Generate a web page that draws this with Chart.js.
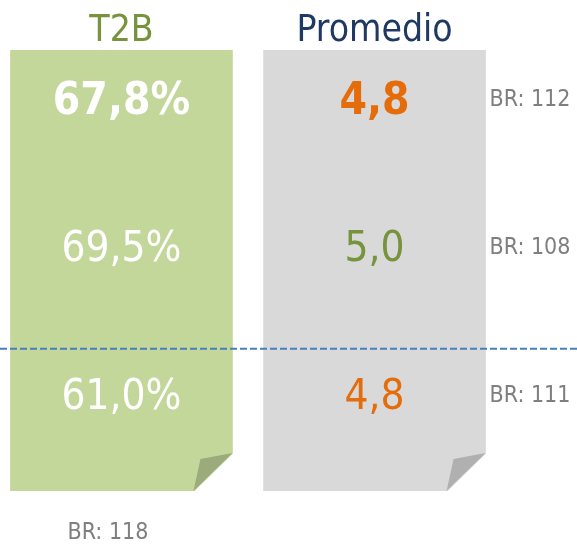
<!DOCTYPE html>
<html>
<head>
<meta charset="utf-8">
<script src="https://cdn.jsdelivr.net/npm/chart.js@4.4.1/dist/chart.umd.min.js"></script>
<style>
  html, body { margin: 0; padding: 0; background: #fff; }
  #wrap { width: 577px; height: 548px; }
</style>
</head>
<body>
<div id="wrap"><canvas id="summaryChart" width="577" height="548"></canvas></div>
<script>
const categories = ["T2B", "Promedio"];
const t2bValues = [67.8, 69.5, 61.0];
const promedioValues = [4.8, 5.0, 4.8];
const baseRows = [112, 108, 111];
const t2bBase = 118;
const dividerRow = 1.7;

const FONT = "'DejaVu Sans Condensed', 'DejaVu Sans', sans-serif";
const headerColors = ["#77933c", "#1f3864"];
const barColors = ["#c4d79b", "#d9d9d9"];
const foldColors = ["#9bab7c", "#b0b0b0"];
const promedioColors = ["#e46c0a", "#77933c", "#e46c0a"];
const rowBold = [true, false, false];

function fmt(v, d) {
  return v.toFixed(d).replace(".", ",");
}

function centeredText(ctx, text, x, cy, font, color, align) {
  ctx.font = font;
  ctx.fillStyle = color;
  ctx.textAlign = align || "center";
  ctx.textBaseline = "alphabetic";
  let m = ctx.measureText(text);
  ctx.fillText(text, x, cy + m.actualBoundingBoxAscent / 2);
}

const cardPlugin = {
  id: "cardPlugin",
  afterDatasetsDraw(chart) {
    const ctx = chart.ctx;
    const rowScale = chart.scales.row;
    const bars = chart.getDatasetMeta(0).data;
    ctx.save();

    // folded corners
    bars.forEach((bar, i) => {
      let right = bar.x + bar.width / 2;
      let bottom = bar.base;
      ctx.fillStyle = "#ffffff";
      ctx.beginPath();
      ctx.moveTo(right - 39, bottom + 1);
      ctx.lineTo(right + 1, bottom + 1);
      ctx.lineTo(right + 1, bottom - 38);
      ctx.closePath();
      ctx.fill();
      ctx.fillStyle = foldColors[i];
      ctx.beginPath();
      ctx.moveTo(right - 39, bottom);
      ctx.lineTo(right - 32, bottom - 32);
      ctx.lineTo(right, bottom - 38);
      ctx.closePath();
      ctx.fill();
    });

    // headers
    bars.forEach((bar, i) => {
      ctx.font = "37px " + FONT;
      ctx.fillStyle = headerColors[i];
      ctx.textAlign = "center";
      ctx.textBaseline = "alphabetic";
      ctx.fillText(categories[i], bar.x, chart.chartArea.top - 9);
    });

    // row values
    t2bValues.forEach((v, r) => {
      let cy = rowScale.getPixelForValue(r);
      let weight = rowBold[r] ? "bold " : "";
      let size = rowBold[r] ? 44 : 42;
      centeredText(ctx, fmt(v, 1) + "%", bars[0].x, cy, weight + size + "px " + FONT, "#ffffff");
      centeredText(ctx, fmt(promedioValues[r], 1), bars[1].x, cy, weight + size + "px " + FONT, promedioColors[r]);
      centeredText(ctx, "BR: " + baseRows[r], bars[1].x + bars[1].width / 2 + 4, cy, "23px " + FONT, "#7f7f7f", "left");
    });

    // base under T2B
    ctx.font = "23px " + FONT;
    ctx.fillStyle = "#7f7f7f";
    ctx.textAlign = "left";
    ctx.fillText("BR: " + t2bBase, bars[0].x - bars[0].width / 2 + 57, chart.chartArea.bottom + 48);

    // divider
    let dy = rowScale.getPixelForValue(dividerRow);
    ctx.strokeStyle = "#4a7ebb";
    ctx.lineWidth = 2;
    ctx.setLineDash([7, 3]);
    ctx.beginPath();
    ctx.moveTo(0, dy);
    ctx.lineTo(chart.width, dy);
    ctx.stroke();
    ctx.restore();
  }
};

new Chart(document.getElementById("summaryChart").getContext("2d"), {
  type: "bar",
  data: {
    datasets: [
      {
        data: categories.map((c, i) => ({ x: i, y: [0, 1] })),
        backgroundColor: barColors,
        borderWidth: 0,
        barThickness: 222,
        grouped: false,
      },
    ],
  },
  options: {
    responsive: false,
    animation: false,
    layout: { padding: { top: 50, bottom: 57, left: 0, right: 0 } },
    plugins: { legend: { display: false }, tooltip: { enabled: false } },
    scales: {
      x: { type: "linear", min: -0.48, max: 1.8, offset: false, display: false },
      y: { min: 0, max: 1, display: false },
      row: { axis: "y", type: "linear", reverse: true, min: -0.318, max: 2.662, display: false },
    },
  },
  plugins: [cardPlugin],
});
</script>
</body>
</html>
